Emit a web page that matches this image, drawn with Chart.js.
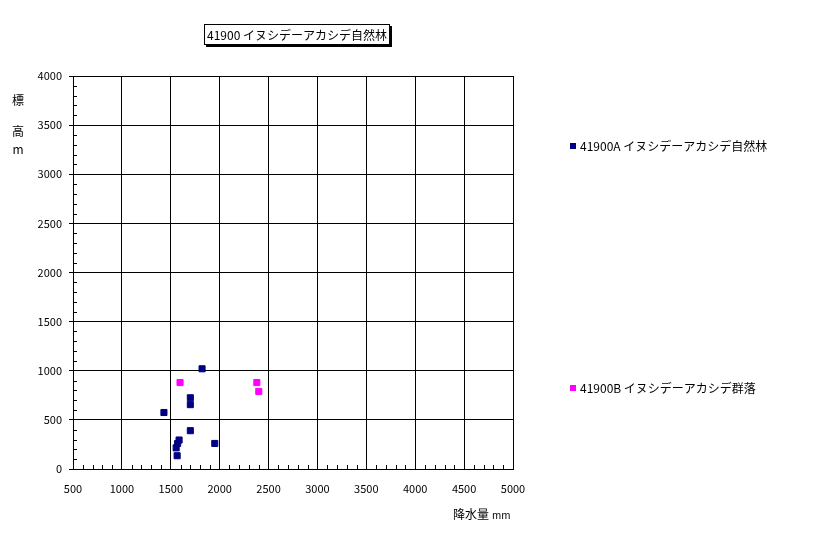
<!DOCTYPE html>
<html>
<head>
<meta charset="utf-8">
<script src="https://cdn.jsdelivr.net/npm/chart.js@4.4.1/dist/chart.umd.min.js"></script>
<style>
  html, body { margin: 0; padding: 0; background: #fff; }
  #wrap { width: 816px; height: 534px; position: relative; }
</style>
</head>
<body>
<div id="wrap"><canvas id="chart" width="816" height="534"></canvas></div>
<script>
  "use strict";

  const chartTitle = "41900 イヌシデーアカシデ自然林";
  const seriesNames = ["41900A イヌシデーアカシデ自然林", "41900B イヌシデーアカシデ群落"];
  const seriesColors = ["#000080", "#ff00ff"];

  // precipitation (mm), elevation (m)
  const seriesA_x = [1820, 1700, 1700, 1430, 1700, 1585, 1570, 1555, 1950, 1565];
  const seriesA_y = [1020, 725, 655, 575, 390, 295, 260, 215, 260, 135];
  const seriesB_x = [1595, 2380, 2400];
  const seriesB_y = [880, 880, 790];

  const xTicks = [500, 1000, 1500, 2000, 2500, 3000, 3500, 4000, 4500, 5000];
  const yTicks = [0, 500, 1000, 1500, 2000, 2500, 3000, 3500, 4000];

  const FONT = "'Noto Sans CJK JP', 'DejaVu Sans', sans-serif";

  const toPoints = (xs, ys) => xs.map((x, i) => ({ x, y: ys[i] }));

  // minor ticks, axis titles, chart title box and legend
  const decorations = {
    id: "decorations",
    afterDraw(chart) {
      const { ctx, chartArea: a } = chart;
      const xs = chart.scales.x, ys = chart.scales.y;
      ctx.save();
      ctx.strokeStyle = "#000";
      ctx.lineWidth = 1;
      ctx.beginPath();
      for (let v = xTicks[0] + 100; v < xTicks[xTicks.length - 1]; v += 100) {
        if (v % 500 === 0) continue;
        const px = Math.round(xs.getPixelForValue(v)) + 0.5;
        ctx.moveTo(px, a.bottom);
        ctx.lineTo(px, a.bottom - 4);
      }
      for (let v = yTicks[0] + 100; v < yTicks[yTicks.length - 1]; v += 100) {
        if (v % 500 === 0) continue;
        const py = Math.round(ys.getPixelForValue(v)) + 0.5;
        ctx.moveTo(a.left, py);
        ctx.lineTo(a.left + 4, py);
      }
      ctx.stroke();

      ctx.fillStyle = "#000";
      ctx.font = "12px " + FONT;
      ctx.textAlign = "center";
      ctx.textBaseline = "middle";
      ctx.fillText("標", 18, 100);
      ctx.fillText("高", 18, 131);
      ctx.fillText("m", 18, 149);

      ctx.textAlign = "left";
      ctx.fillText("降水量", 453, 514);
      ctx.font = "10px " + FONT;
      ctx.fillText("mm", 492, 515);

      // title box with shadow
      ctx.fillStyle = "#000";
      ctx.fillRect(206, 26, 186, 21);
      ctx.fillStyle = "#fff";
      ctx.fillRect(204, 24, 186, 21);
      ctx.strokeRect(204.5, 24.5, 185, 20);
      ctx.fillStyle = "#000";
      ctx.font = "12px " + FONT;
      ctx.textAlign = "center";
      ctx.fillText(chartTitle, 297, 35);

      // legend
      const legendY = [146, 388];
      ctx.textAlign = "left";
      seriesNames.forEach((name, i) => {
        ctx.fillStyle = seriesColors[i];
        ctx.fillRect(570, legendY[i] - 3, 6, 6);
        ctx.fillStyle = "#000";
        ctx.fillText(name, 580, legendY[i]);
      });
      ctx.restore();
    },
  };

  new Chart(document.getElementById("chart"), {
    type: "scatter",
    data: {
      datasets: [
        {
          label: seriesNames[0],
          data: toPoints(seriesA_x, seriesA_y),
          backgroundColor: seriesColors[0],
          borderColor: seriesColors[0],
          pointStyle: "rect",
          pointRadius: 4.3,
          borderWidth: 1,
        },
        {
          label: seriesNames[1],
          data: toPoints(seriesB_x, seriesB_y),
          backgroundColor: seriesColors[1],
          borderColor: seriesColors[1],
          pointStyle: "rect",
          pointRadius: 4.3,
          borderWidth: 1,
        },
      ],
    },
    options: {
      responsive: false,
      animation: false,
      layout: { padding: { top: 76, right: 303, left: 0, bottom: 0 } },
      plugins: { legend: { display: false }, tooltip: { enabled: false } },
      scales: {
        x: {
          type: "linear",
          min: xTicks[0],
          max: xTicks[xTicks.length - 1],
          afterBuildTicks: (s) => { s.ticks = xTicks.map((v) => ({ value: v })); },
          afterFit: (s) => { s.height = 65; },
          grid: { color: "#000", drawTicks: false },
          border: { color: "#000" },
          ticks: { color: "#000", font: { family: FONT, size: 11 }, padding: 13, maxRotation: 0, callback: (v) => String(v) },
        },
        y: {
          type: "linear",
          min: yTicks[0],
          max: yTicks[yTicks.length - 1],
          afterBuildTicks: (s) => { s.ticks = yTicks.map((v) => ({ value: v })); },
          afterFit: (s) => { s.width = 73; },
          grid: { color: "#000", tickLength: 4 },
          border: { color: "#000" },
          ticks: { color: "#000", font: { family: FONT, size: 11 }, padding: 7, callback: (v) => String(v) },
        },
      },
    },
    plugins: [decorations],
  });
</script>
</body>
</html>
